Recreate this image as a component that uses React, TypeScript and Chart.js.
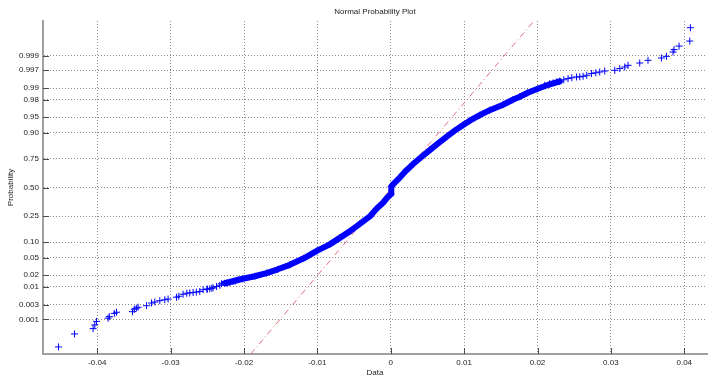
import React, { useEffect, useRef } from "react";
import { Chart, registerables } from "chart.js";

Chart.register(...registerables);

const chartTitle = "Normal Probability Plot";
const xAxisTitle = "Data";
const yAxisTitle = "Probability";

const xTicks = [-0.04, -0.03, -0.02, -0.01, 0, 0.01, 0.02, 0.03, 0.04];
const xTickLabels = ["-0.04", "-0.03", "-0.02", "-0.01", "0", "0.01", "0.02", "0.03", "0.04"];
const probTicks = [0.001, 0.003, 0.01, 0.02, 0.05, 0.1, 0.25, 0.5, 0.75, 0.9, 0.95, 0.98, 0.99, 0.997, 0.999];
const probTickLabels = ["0.001", "0.003", "0.01", "0.02", "0.05", "0.10", "0.25", "0.50", "0.75", "0.90", "0.95", "0.98", "0.99", "0.997", "0.999"];

const xMin = -0.0474;
const xMax = 0.0431;
const zMin = -3.9;
const zMax = 3.9;

// sample points, x = data value, z = normal score (probability-axis position)
const lowerTailX = [-0.04529, -0.0431, -0.04057, -0.04034, -0.04011, -0.03853, -0.03836, -0.03768, -0.03738, -0.0352, -0.03496, -0.03468, -0.03444, -0.03329, -0.03261, -0.03216, -0.03148, -0.0308, -0.03035, -0.0292, -0.02889, -0.02831, -0.0278, -0.0274, -0.02694, -0.0265, -0.02603, -0.02558, -0.02507, -0.025, -0.02467, -0.0244, -0.02422, -0.02375, -0.0233, -0.02307, -0.0223, -0.02194, -0.02149, -0.0212, -0.02081];
const lowerTailZ = [-3.734, -3.43, -3.306, -3.22, -3.136, -3.061, -3.026, -2.949, -2.921, -2.909, -2.85, -2.827, -2.804, -2.769, -2.706, -2.682, -2.652, -2.629, -2.612, -2.57, -2.547, -2.5, -2.477, -2.47, -2.458, -2.45, -2.435, -2.395, -2.383, -2.38, -2.371, -2.36, -2.348, -2.318, -2.29, -2.255, -2.235, -2.224, -2.201, -2.19, -2.161];

const bodyX = [-0.02262, -0.02017, -0.01853, -0.01694, -0.0154, -0.01376, -0.01186, -0.01008, -0.00831, -0.00695, -0.00559, -0.00422, -0.00286, -0.00191, -0.00109, -0.00041, 0.00004, 0.00007, 0.00041, 0.00123, 0.00204, 0.00304, 0.00409, 0.00531, 0.00641, 0.00759, 0.00872, 0.00981, 0.01077, 0.01213, 0.01349, 0.0153, 0.01663, 0.01758, 0.01867, 0.02003, 0.02167, 0.02303];
const bodyZ = [-2.243, -2.138, -2.079, -2.005, -1.916, -1.811, -1.659, -1.484, -1.332, -1.18, -1.028, -0.853, -0.678, -0.491, -0.362, -0.222, -0.152, 0.023, 0.093, 0.234, 0.386, 0.549, 0.701, 0.876, 1.028, 1.187, 1.332, 1.46, 1.565, 1.694, 1.811, 1.939, 2.056, 2.126, 2.22, 2.313, 2.418, 2.488];

const upperTailX = [0.02099, 0.02167, 0.02212, 0.02262, 0.02303, 0.02358, 0.02416, 0.02467, 0.02531, 0.02576, 0.02621, 0.02671, 0.02735, 0.02794, 0.02848, 0.02916, 0.03053, 0.03121, 0.03189, 0.03234, 0.03393, 0.03506, 0.03689, 0.03757, 0.03847, 0.03861, 0.03929, 0.04075, 0.04084];
const upperTailZ = [2.395, 2.43, 2.449, 2.477, 2.488, 2.523, 2.551, 2.57, 2.589, 2.593, 2.605, 2.629, 2.668, 2.687, 2.706, 2.729, 2.745, 2.785, 2.822, 2.862, 2.916, 2.979, 3.033, 3.072, 3.173, 3.229, 3.313, 3.43, 3.743];

const refLineX = [-0.0191, 0.0195];
const refLineZ = [-3.9, 3.9];

function normInv(p: number): number {
  const a = [-3.969683028665376e1, 2.209460984245205e2, -2.759285104469687e2, 1.38357751867269e2, -3.066479806614716e1, 2.506628277459239];
  const b = [-5.447609879822406e1, 1.615858368580409e2, -1.556989798598866e2, 6.680131188771972e1, -1.328068155288572e1];
  const c = [-7.784894002430293e-3, -3.223964580411365e-1, -2.400758277161838, -2.549732539343734, 4.374664141464968, 2.938163982698783];
  const d = [7.784695709041462e-3, 3.224671290700398e-1, 2.445134137142996, 3.754408661907416];
  const pl = 0.02425;
  const ph = 1 - pl;
  let q: number, r: number;
  if (p < pl) {
    q = Math.sqrt(-2 * Math.log(p));
    return (((((c[0] * q + c[1]) * q + c[2]) * q + c[3]) * q + c[4]) * q + c[5]) / ((((d[0] * q + d[1]) * q + d[2]) * q + d[3]) * q + 1);
  }
  if (p <= ph) {
    q = p - 0.5;
    r = q * q;
    return ((((((a[0] * r + a[1]) * r + a[2]) * r + a[3]) * r + a[4]) * r + a[5]) * q) / (((((b[0] * r + b[1]) * r + b[2]) * r + b[3]) * r + b[4]) * r + 1);
  }
  q = Math.sqrt(-2 * Math.log(1 - p));
  return -(((((c[0] * q + c[1]) * q + c[2]) * q + c[3]) * q + c[4]) * q + c[5]) / ((((d[0] * q + d[1]) * q + d[2]) * q + d[3]) * q + 1);
}

const FONT = '"Liberation Sans", Arial, Helvetica, sans-serif';
const BLUE = "#0000ff";

const pts = (xs: number[], zs: number[]) => xs.map((x, i) => ({ x, y: zs[i] }));

const decorPlugin = {
  id: "decor",
  afterDraw(chart: any) {
    const { ctx, chartArea, scales } = chart;
    ctx.save();
    ctx.strokeStyle = "#4a4a4a";
    ctx.lineWidth = 1;
    ctx.beginPath();
    xTicks.forEach((v) => {
      const px = Math.round(scales.x.getPixelForValue(v)) + 0.5;
      ctx.moveTo(px, chartArea.bottom);
      ctx.lineTo(px, chartArea.bottom - 6);
    });
    probTicks.forEach((p) => {
      const py = Math.round(scales.y.getPixelForValue(normInv(p))) + 0.5;
      ctx.moveTo(chartArea.left, py);
      ctx.lineTo(chartArea.left + 6, py);
    });
    ctx.stroke();
    ctx.fillStyle = "#222";
    ctx.font = "8px " + FONT;
    ctx.textAlign = "center";
    ctx.textBaseline = "middle";
    ctx.fillText(chartTitle, (chartArea.left + chartArea.right) / 2, 12);
    ctx.restore();
  },
};

export default function App() {
  const ref = useRef<HTMLCanvasElement | null>(null);
  useEffect(() => {
    if (!ref.current) return;
    const crossStyle = {
      pointStyle: "cross",
      pointRadius: 3.5,
      pointBorderWidth: 1,
      pointBorderColor: BLUE,
      pointBackgroundColor: BLUE,
      pointHoverRadius: 3.5,
    };
    const chart = new Chart(ref.current, {
      type: "scatter",
      data: {
        datasets: [
          {
            label: "body",
            data: pts(bodyX, bodyZ),
            showLine: true,
            borderColor: BLUE,
            borderWidth: 6,
            borderJoinStyle: "round",
            borderCapStyle: "round",
            order: 1,
            ...crossStyle,
          } as any,
          { label: "lower", data: pts(lowerTailX, lowerTailZ), showLine: false, order: 0, ...crossStyle } as any,
          { label: "upper", data: pts(upperTailX, upperTailZ), showLine: false, order: 0, ...crossStyle } as any,
          {
            label: "reference",
            data: pts(refLineX, refLineZ),
            showLine: true,
            borderColor: "#e0707c",
            borderWidth: 1,
            borderDash: [6, 3, 1, 3],
            pointRadius: 0,
            order: 5,
          } as any,
        ],
      },
      options: {
        animation: false,
        responsive: false,
        devicePixelRatio: 1,
        layout: { padding: { top: 21, right: 10, left: 0, bottom: 0 } },
        plugins: { legend: { display: false }, tooltip: { enabled: false }, title: { display: false } },
        events: [],
        scales: {
          x: {
            type: "linear",
            min: xMin,
            max: xMax,
            afterBuildTicks: (scale: any) => {
              scale.ticks = xTicks.map((v) => ({ value: v }));
            },
            afterFit: (scale: any) => {
              scale.height = 28;
            },
            ticks: {
              autoSkip: false,
              maxRotation: 0,
              padding: 4,
              color: "#222",
              font: { family: FONT, size: 8 },
              callback: (_v: any, i: number) => xTickLabels[i],
            },
            grid: { color: "#8a8a8a", lineWidth: 1, drawTicks: false },
            border: { display: true, color: "#a0a0a0", width: 2, dash: [1, 2] },
            title: { display: true, text: xAxisTitle, color: "#222", font: { family: FONT, size: 8 }, padding: { top: 0, bottom: 4.5 } },
          },
          y: {
            type: "linear",
            min: zMin,
            max: zMax,
            afterBuildTicks: (scale: any) => {
              scale.ticks = probTicks.map((p) => ({ value: normInv(p) }));
            },
            afterFit: (scale: any) => {
              scale.width = 43;
            },
            ticks: {
              autoSkip: false,
              padding: 4,
              color: "#222",
              font: { family: FONT, size: 8 },
              callback: (_v: any, i: number) => probTickLabels[i],
            },
            grid: { color: "#8a8a8a", lineWidth: 1, drawTicks: false },
            border: { display: true, color: "#a0a0a0", width: 2, dash: [1, 2] },
            title: { display: true, text: yAxisTitle, color: "#222", font: { family: FONT, size: 8 }, padding: { top: 6, bottom: 0 } },
          },
        },
      } as any,
      plugins: [decorPlugin],
    });
    return () => chart.destroy();
  }, []);
  return (
    <div style={{ position: "absolute", left: 0, top: 0, width: 717, height: 382, background: "#fff" }}>
      <canvas ref={ref} width={717} height={382} />
    </div>
  );
}
